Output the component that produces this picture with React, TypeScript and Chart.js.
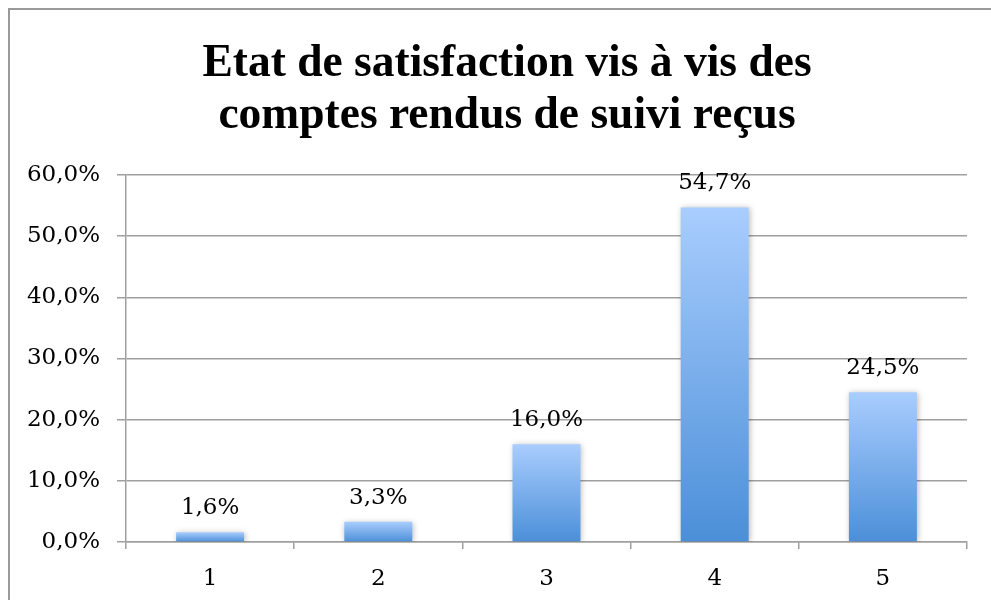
import React, { useEffect, useRef } from "react";
import { Chart, registerables } from "chart.js";

Chart.register(...registerables);

const categories = ["1", "2", "3", "4", "5"];
const values = [1.6, 3.3, 16.0, 54.7, 24.5];
const valueLabels = ["1,6%", "3,3%", "16,0%", "54,7%", "24,5%"];
const titleLines = ["Etat de satisfaction vis à vis des", "comptes rendus de suivi reçus"];
const yMin = 0;
const yMax = 60;
const yStep = 10;

const titlePlugin = {
  id: "centeredTitle",
  afterDraw(chart: any) {
    const ctx = chart.ctx;
    ctx.save();
    ctx.font = "bold 45.5px 'Liberation Serif'";
    ctx.fillStyle = "#000";
    ctx.textAlign = "center";
    ctx.textBaseline = "alphabetic";
    titleLines.forEach((line, i) => {
      ctx.fillText(line, 507, 76 + i * 52);
    });
    ctx.restore();
  },
};

const shadowPlugin = {
  id: "barShadow",
  beforeDatasetsDraw(chart: any) {
    const ctx = chart.ctx;
    ctx.save();
    ctx.shadowColor = "rgba(0,0,0,0.28)";
    ctx.shadowBlur = 6;
    ctx.shadowOffsetX = 1;
    ctx.shadowOffsetY = 1;
  },
  afterDatasetsDraw(chart: any) {
    chart.ctx.restore();
  },
};

const labelPlugin = {
  id: "valueLabels",
  afterDatasetsDraw(chart: any) {
    const ctx = chart.ctx;
    const meta = chart.getDatasetMeta(0);
    ctx.save();
    ctx.font = "23px 'DejaVu Serif'";
    ctx.fillStyle = "#000";
    ctx.textAlign = "center";
    ctx.textBaseline = "alphabetic";
    meta.data.forEach((el: any, i: number) => {
      ctx.fillText(valueLabels[i], el.x, el.y - 18);
    });
    ctx.restore();
  },
};

export default function App() {
  const ref = useRef<HTMLCanvasElement | null>(null);

  useEffect(() => {
    if (!ref.current) return;
    Chart.defaults.font.family = "'DejaVu Serif'";
    Chart.defaults.color = "#000";
    const gridColor = "#9f9f9f";
    const chart = new Chart(ref.current, {
      type: "bar",
      data: {
        labels: categories,
        datasets: [
          {
            data: values,
            backgroundColor: (c: any) => {
              const ch = c.chart;
              const ys = ch.scales && ch.scales.y;
              if (!ch.chartArea || !ys || c.type !== "data") return "#7fb0ea";
              const top = ys.getPixelForValue(c.raw);
              const bot = ys.getPixelForValue(0);
              const g = ch.ctx.createLinearGradient(0, top, 0, bot);
              g.addColorStop(0, "#a9cdfe");
              g.addColorStop(1, "#4b8fd8");
              return g;
            },
            borderWidth: 0,
            barPercentage: 0.404,
            categoryPercentage: 1,
          },
        ],
      },
      options: {
        responsive: false,
        animation: false,
        events: [],
        layout: { padding: { left: 0, right: 24, top: 175, bottom: 0 } },
        plugins: {
          legend: { display: false },
          tooltip: { enabled: false },
          title: { display: false },
        },
        scales: {
          x: {
            grid: {
              offset: true,
              drawOnChartArea: false,
              drawTicks: true,
              tickLength: 7,
              color: gridColor,
              lineWidth: 1.5,
            },
            border: { display: true, color: gridColor, width: 1.5 },
            ticks: { font: { size: 23 }, padding: 16, color: "#000" },
            afterFit(scale: any) {
              scale.height = 58;
            },
          },
          y: {
            min: yMin,
            max: yMax,
            grid: { color: gridColor, lineWidth: 1.5, tickLength: 9 },
            border: { display: true, color: gridColor, width: 1.5 },
            ticks: {
              stepSize: yStep,
              font: { size: 23 },
              padding: 17,
              color: "#000",
              callback: (v: any) => Number(v).toFixed(1).replace(".", ",") + "%",
            },
            afterFit(scale: any) {
              scale.width = 126;
            },
          },
        },
      },
      plugins: [titlePlugin, shadowPlugin, labelPlugin],
    });
    return () => chart.destroy();
  }, []);

  return (
    <div>
      <div
        style={{
          position: "fixed",
          left: 8,
          top: 8,
          width: 1200,
          height: 800,
          border: "2px solid #9a9a9a",
          boxSizing: "border-box",
          background: "#fff",
        }}
      />
      <canvas
        ref={ref}
        width={991}
        height={600}
        style={{ position: "fixed", left: 0, top: 0, width: 991, height: 600 }}
      />
    </div>
  );
}
